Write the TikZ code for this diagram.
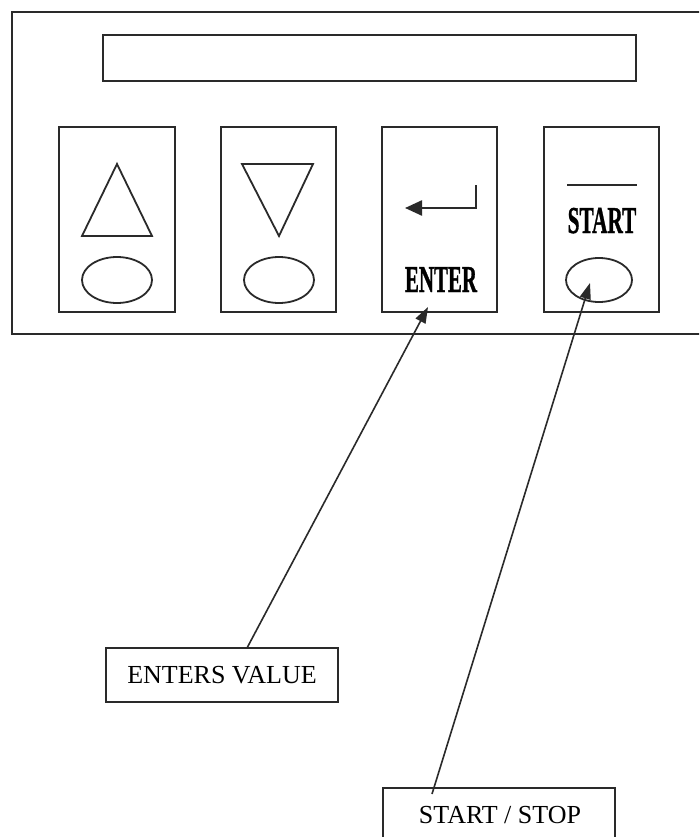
\documentclass[tikz,border=0pt]{standalone}
\usepackage{fontspec}
\setmainfont{Liberation Serif}
\newfontfamily\heavyfont{Liberation Serif}[BoldFeatures={FakeBold=1.2}]
\usetikzlibrary{arrows.meta}
\definecolor{ink}{HTML}{2A2A2A}
\tikzset{
  box/.style={draw=ink, line width=1.8pt},
  keybox/.style={draw=ink, line width=1.8pt},
  sym/.style={draw=ink, line width=1.8pt},
  pointer/.style={draw=ink, line width=1.6pt, -{Triangle[length=16pt,width=11pt]}},
  label/.style={font=\fontsize{26}{28}\selectfont, text=black, inner sep=0pt},
  keylabel/.style={font=\heavyfont\fontsize{38}{38}\selectfont\bfseries, text=black, inner sep=0pt, anchor=base}
}
\begin{document}
\begin{tikzpicture}[x=1pt,y=-1pt]
\clip (0,0) rectangle (699,837);
\fill[white] (0,0) rectangle (699,837);
% outer panel (right side beyond the picture)
\draw[box] (705,12) -- (12,12) -- (12,334) -- (705,334);
% display
\draw[box] (103,35) rectangle (636,81);
% key frames
\draw[keybox] (59,127) rectangle (175,312);
\draw[keybox] (221,127) rectangle (336,312);
\draw[keybox] (382,127) rectangle (497,312);
\draw[keybox] (544,127) rectangle (659,312);
% up key
\draw[sym] (117,164) -- (152,236) -- (82,236) -- cycle;
\draw[sym] (117,280) ellipse [x radius=35, y radius=23];
% down key
\draw[sym] (242,164) -- (313,164) -- (279,236) -- cycle;
\draw[sym] (279,280) ellipse [x radius=35, y radius=23];
% enter key
\draw[draw=ink, line width=2.4pt, -{Triangle[length=17pt,width=15pt]}] (476,185) -- (476,208) -- (405,208);
\node[keylabel] (enterlbl) at (441,292) {\scalebox{0.55}[1]{ENTER}};
% start key
\draw[draw=ink, line width=2.2pt] (567,185) -- (637,185);
\node[keylabel] (startlbl) at (602,233) {\scalebox{0.56}[1]{START}};
\draw[sym] (599,280) ellipse [x radius=33, y radius=22];
% callouts
\node[draw=ink, line width=1.8pt, minimum width=232pt, minimum height=54pt, inner sep=0pt] (ev) at (222,675) {};
\node[label, anchor=base] (evtext) at (222,683) {ENTERS VALUE};
\draw[box] (383,850) -- (383,788) -- (615,788) -- (615,850);
\node[label, anchor=base] (sstext) at (500,823) {START / STOP};
% pointers
\coordinate (entertip) at (428,307);
\coordinate (starttip) at (590,283);
\coordinate (evtop) at (247,648);
\coordinate (ssend) at (432,794);
\draw[pointer] (evtop) -- (entertip);
\draw[pointer] (ssend) -- (starttip);
\end{tikzpicture}
\end{document}
